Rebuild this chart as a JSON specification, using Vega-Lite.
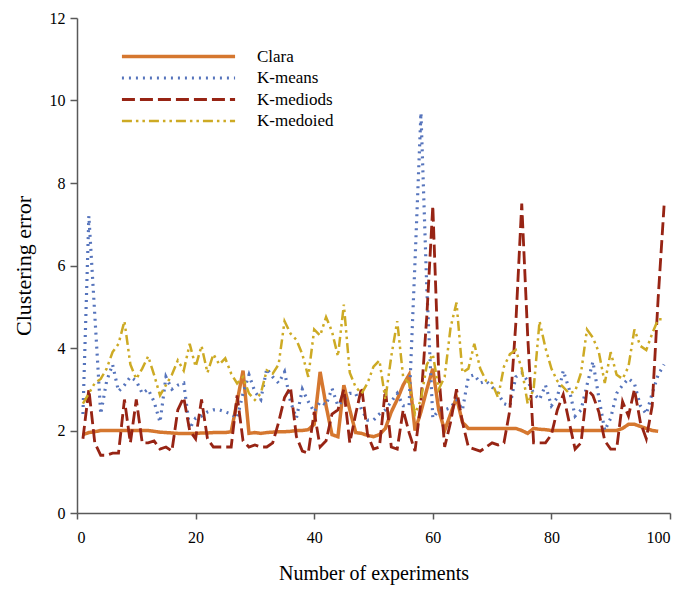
{
  "$schema": "https://vega.github.io/schema/vega-lite/v6.json",
  "width": 593,
  "height": 495,
  "autosize": {"type": "none"},
  "padding": {"left": 77, "top": 18, "right": 11, "bottom": 82},
  "background": "white",
  "config": {
    "view": {"stroke": null},
    "font": "Liberation Serif",
    "axis": {
      "grid": false,
      "domainColor": "#595959",
      "domainWidth": 1.5,
      "tickColor": "#595959",
      "tickWidth": 1.5,
      "labelFont": "Liberation Serif",
      "labelFontSize": 16,
      "labelColor": "#000000",
      "titleFont": "Liberation Serif",
      "titleFontSize": 20,
      "titleFontWeight": "normal",
      "titleColor": "#000000"
    }
  },
  "data": {
    "values": [
      {"n": 1, "Clara": 1.90, "K-means": 2.40, "K-mediods": 1.80, "K-medoied": 2.65},
      {"n": 2, "Clara": 1.95, "K-means": 7.20, "K-mediods": 3.00, "K-medoied": 2.90},
      {"n": 3, "Clara": 1.97, "K-means": 4.80, "K-mediods": 1.70, "K-medoied": 3.15},
      {"n": 4, "Clara": 2.00, "K-means": 2.40, "K-mediods": 1.40, "K-medoied": 3.25},
      {"n": 5, "Clara": 2.00, "K-means": 3.20, "K-mediods": 1.40, "K-medoied": 3.50},
      {"n": 6, "Clara": 2.00, "K-means": 3.60, "K-mediods": 1.45, "K-medoied": 3.90},
      {"n": 7, "Clara": 2.00, "K-means": 2.95, "K-mediods": 1.45, "K-medoied": 4.10},
      {"n": 8, "Clara": 2.00, "K-means": 3.10, "K-mediods": 2.75, "K-medoied": 4.65},
      {"n": 9, "Clara": 2.00, "K-means": 3.30, "K-mediods": 1.70, "K-medoied": 3.60},
      {"n": 10, "Clara": 2.00, "K-means": 3.20, "K-mediods": 2.75, "K-medoied": 3.25},
      {"n": 11, "Clara": 2.00, "K-means": 2.90, "K-mediods": 1.70, "K-medoied": 3.50},
      {"n": 12, "Clara": 2.00, "K-means": 3.00, "K-mediods": 1.70, "K-medoied": 3.80},
      {"n": 13, "Clara": 1.98, "K-means": 2.70, "K-mediods": 1.75, "K-medoied": 3.35},
      {"n": 14, "Clara": 1.96, "K-means": 2.20, "K-mediods": 1.55, "K-medoied": 2.85},
      {"n": 15, "Clara": 1.95, "K-means": 3.30, "K-mediods": 1.60, "K-medoied": 3.10},
      {"n": 16, "Clara": 1.94, "K-means": 3.00, "K-mediods": 1.50, "K-medoied": 3.35},
      {"n": 17, "Clara": 1.93, "K-means": 3.10, "K-mediods": 2.50, "K-medoied": 3.70},
      {"n": 18, "Clara": 1.93, "K-means": 3.15, "K-mediods": 2.80, "K-medoied": 3.45},
      {"n": 19, "Clara": 1.93, "K-means": 2.05, "K-mediods": 2.00, "K-medoied": 4.10},
      {"n": 20, "Clara": 1.93, "K-means": 2.30, "K-mediods": 1.80, "K-medoied": 3.55},
      {"n": 21, "Clara": 1.94, "K-means": 2.35, "K-mediods": 2.75, "K-medoied": 4.05},
      {"n": 22, "Clara": 1.94, "K-means": 2.45, "K-mediods": 1.80, "K-medoied": 3.40},
      {"n": 23, "Clara": 1.95, "K-means": 2.50, "K-mediods": 1.60, "K-medoied": 3.85},
      {"n": 24, "Clara": 1.95, "K-means": 2.50, "K-mediods": 1.60, "K-medoied": 3.60},
      {"n": 25, "Clara": 1.95, "K-means": 2.45, "K-mediods": 1.60, "K-medoied": 3.75},
      {"n": 26, "Clara": 1.97, "K-means": 2.40, "K-mediods": 1.60, "K-medoied": 3.38},
      {"n": 27, "Clara": 2.70, "K-means": 2.30, "K-mediods": 2.85, "K-medoied": 3.14},
      {"n": 28, "Clara": 3.45, "K-means": 2.90, "K-mediods": 1.75, "K-medoied": 3.30},
      {"n": 29, "Clara": 1.93, "K-means": 3.35, "K-mediods": 1.60, "K-medoied": 2.90},
      {"n": 30, "Clara": 1.95, "K-means": 2.94, "K-mediods": 1.65, "K-medoied": 2.74},
      {"n": 31, "Clara": 1.93, "K-means": 2.75, "K-mediods": 1.60, "K-medoied": 2.90},
      {"n": 32, "Clara": 1.95, "K-means": 3.50, "K-mediods": 1.60, "K-medoied": 3.46},
      {"n": 33, "Clara": 1.96, "K-means": 3.30, "K-mediods": 1.70, "K-medoied": 3.38},
      {"n": 34, "Clara": 1.97, "K-means": 3.15, "K-mediods": 2.20, "K-medoied": 3.60},
      {"n": 35, "Clara": 1.97, "K-means": 3.42, "K-mediods": 2.80, "K-medoied": 4.65},
      {"n": 36, "Clara": 1.98, "K-means": 2.70, "K-mediods": 3.05, "K-medoied": 4.35},
      {"n": 37, "Clara": 2.00, "K-means": 2.30, "K-mediods": 1.85, "K-medoied": 4.20},
      {"n": 38, "Clara": 2.00, "K-means": 3.00, "K-mediods": 1.50, "K-medoied": 3.85},
      {"n": 39, "Clara": 2.02, "K-means": 2.70, "K-mediods": 1.45, "K-medoied": 3.30},
      {"n": 40, "Clara": 2.15, "K-means": 2.45, "K-mediods": 2.45, "K-medoied": 4.45},
      {"n": 41, "Clara": 3.42, "K-means": 2.70, "K-mediods": 1.60, "K-medoied": 4.30},
      {"n": 42, "Clara": 2.60, "K-means": 2.62, "K-mediods": 1.75, "K-medoied": 4.75},
      {"n": 43, "Clara": 1.90, "K-means": 3.02, "K-mediods": 2.40, "K-medoied": 4.40},
      {"n": 44, "Clara": 1.85, "K-means": 2.60, "K-mediods": 2.50, "K-medoied": 3.80},
      {"n": 45, "Clara": 3.10, "K-means": 2.75, "K-mediods": 3.00, "K-medoied": 5.05},
      {"n": 46, "Clara": 2.50, "K-means": 2.90, "K-mediods": 1.70, "K-medoied": 3.40},
      {"n": 47, "Clara": 1.95, "K-means": 2.90, "K-mediods": 2.40, "K-medoied": 3.05},
      {"n": 48, "Clara": 1.93, "K-means": 2.50, "K-mediods": 3.05, "K-medoied": 2.90},
      {"n": 49, "Clara": 1.88, "K-means": 2.25, "K-mediods": 1.90, "K-medoied": 3.15},
      {"n": 50, "Clara": 1.85, "K-means": 2.25, "K-mediods": 1.55, "K-medoied": 3.55},
      {"n": 51, "Clara": 1.90, "K-means": 2.40, "K-mediods": 1.60, "K-medoied": 3.70},
      {"n": 52, "Clara": 2.05, "K-means": 2.50, "K-mediods": 3.00, "K-medoied": 2.75},
      {"n": 53, "Clara": 2.45, "K-means": 2.70, "K-mediods": 1.60, "K-medoied": 3.80},
      {"n": 54, "Clara": 2.75, "K-means": 2.90, "K-mediods": 1.55, "K-medoied": 4.65},
      {"n": 55, "Clara": 3.10, "K-means": 2.60, "K-mediods": 2.50, "K-medoied": 3.30},
      {"n": 56, "Clara": 3.35, "K-means": 2.60, "K-mediods": 1.95, "K-medoied": 3.15},
      {"n": 57, "Clara": 2.00, "K-means": 6.10, "K-mediods": 1.50, "K-medoied": 2.40},
      {"n": 58, "Clara": 2.45, "K-means": 9.70, "K-mediods": 2.70, "K-medoied": 2.75},
      {"n": 59, "Clara": 3.00, "K-means": 5.40, "K-mediods": 4.80, "K-medoied": 3.60},
      {"n": 60, "Clara": 3.50, "K-means": 2.30, "K-mediods": 7.45, "K-medoied": 3.85},
      {"n": 61, "Clara": 2.50, "K-means": 2.50, "K-mediods": 3.40, "K-medoied": 3.00},
      {"n": 62, "Clara": 2.00, "K-means": 2.50, "K-mediods": 1.60, "K-medoied": 3.30},
      {"n": 63, "Clara": 2.40, "K-means": 2.55, "K-mediods": 2.20, "K-medoied": 4.50},
      {"n": 64, "Clara": 2.80, "K-means": 2.75, "K-mediods": 3.00, "K-medoied": 5.10},
      {"n": 65, "Clara": 2.20, "K-means": 2.50, "K-mediods": 2.20, "K-medoied": 3.40},
      {"n": 66, "Clara": 2.05, "K-means": 3.30, "K-mediods": 1.60, "K-medoied": 3.50},
      {"n": 67, "Clara": 2.05, "K-means": 3.35, "K-mediods": 1.55, "K-medoied": 4.10},
      {"n": 68, "Clara": 2.05, "K-means": 3.15, "K-mediods": 1.50, "K-medoied": 3.50},
      {"n": 69, "Clara": 2.05, "K-means": 3.20, "K-mediods": 1.60, "K-medoied": 3.20},
      {"n": 70, "Clara": 2.05, "K-means": 3.05, "K-mediods": 1.70, "K-medoied": 3.15},
      {"n": 71, "Clara": 2.05, "K-means": 2.90, "K-mediods": 1.65, "K-medoied": 2.80},
      {"n": 72, "Clara": 2.05, "K-means": 2.65, "K-mediods": 1.70, "K-medoied": 3.55},
      {"n": 73, "Clara": 2.05, "K-means": 2.60, "K-mediods": 2.50, "K-medoied": 3.85},
      {"n": 74, "Clara": 2.05, "K-means": 3.30, "K-mediods": 4.60, "K-medoied": 3.95},
      {"n": 75, "Clara": 2.00, "K-means": 3.40, "K-mediods": 7.50, "K-medoied": 3.50},
      {"n": 76, "Clara": 1.93, "K-means": 3.20, "K-mediods": 4.30, "K-medoied": 2.65},
      {"n": 77, "Clara": 2.05, "K-means": 2.90, "K-mediods": 1.70, "K-medoied": 3.00},
      {"n": 78, "Clara": 2.03, "K-means": 2.75, "K-mediods": 1.70, "K-medoied": 4.65},
      {"n": 79, "Clara": 2.02, "K-means": 3.10, "K-mediods": 1.70, "K-medoied": 4.00},
      {"n": 80, "Clara": 2.00, "K-means": 2.60, "K-mediods": 1.90, "K-medoied": 3.50},
      {"n": 81, "Clara": 2.00, "K-means": 2.80, "K-mediods": 2.50, "K-medoied": 3.20},
      {"n": 82, "Clara": 2.00, "K-means": 3.45, "K-mediods": 2.87, "K-medoied": 3.05},
      {"n": 83, "Clara": 2.00, "K-means": 3.00, "K-mediods": 2.20, "K-medoied": 2.90},
      {"n": 84, "Clara": 2.00, "K-means": 2.35, "K-mediods": 1.55, "K-medoied": 2.95},
      {"n": 85, "Clara": 2.00, "K-means": 2.50, "K-mediods": 1.70, "K-medoied": 3.40},
      {"n": 86, "Clara": 2.00, "K-means": 3.10, "K-mediods": 3.00, "K-medoied": 4.45},
      {"n": 87, "Clara": 2.00, "K-means": 3.67, "K-mediods": 2.85, "K-medoied": 4.25},
      {"n": 88, "Clara": 2.00, "K-means": 2.80, "K-mediods": 2.45, "K-medoied": 3.90},
      {"n": 89, "Clara": 2.00, "K-means": 2.00, "K-mediods": 1.75, "K-medoied": 3.15},
      {"n": 90, "Clara": 2.00, "K-means": 2.30, "K-mediods": 1.55, "K-medoied": 3.90},
      {"n": 91, "Clara": 2.00, "K-means": 2.90, "K-mediods": 1.55, "K-medoied": 3.35},
      {"n": 92, "Clara": 2.05, "K-means": 3.10, "K-mediods": 2.70, "K-medoied": 3.25},
      {"n": 93, "Clara": 2.15, "K-means": 3.26, "K-mediods": 2.35, "K-medoied": 3.55},
      {"n": 94, "Clara": 2.15, "K-means": 3.14, "K-mediods": 3.00, "K-medoied": 4.45},
      {"n": 95, "Clara": 2.10, "K-means": 2.60, "K-mediods": 2.20, "K-medoied": 4.05},
      {"n": 96, "Clara": 2.05, "K-means": 2.40, "K-mediods": 1.80, "K-medoied": 3.95},
      {"n": 97, "Clara": 2.00, "K-means": 2.90, "K-mediods": 2.60, "K-medoied": 4.35},
      {"n": 98, "Clara": 1.98, "K-means": 3.35, "K-mediods": 5.20, "K-medoied": 4.70},
      {"n": 99, "Clara": null, "K-means": 3.60, "K-mediods": 7.45, "K-medoied": 4.70}
    ]
  },
  "transform": [
    {"fold": ["Clara", "K-means", "K-mediods", "K-medoied"], "as": ["series", "value"]}
  ],
  "mark": {"type": "line", "strokeCap": "butt"},
  "encoding": {
    "x": {
      "field": "n",
      "type": "quantitative",
      "scale": {"domain": [0, 100], "nice": false},
      "axis": {"values": [0, 20, 40, 60, 80, 100], "title": "Number of experiments", "tickSize": 6, "labelPadding": 10, "titlePadding": 18}
    },
    "y": {
      "field": "value",
      "type": "quantitative",
      "scale": {"domain": [0, 12], "nice": false},
      "axis": {"values": [0, 2, 4, 6, 8, 10, 12], "title": "Clustering error", "titleFontSize": 22, "tickSize": 7, "labelPadding": 5, "titlePadding": 14}
    },
    "color": {
      "field": "series",
      "type": "nominal",
      "scale": {"domain": ["Clara", "K-means", "K-mediods", "K-medoied"], "range": ["#D5772F", "#5674BC", "#972414", "#CDAA24"]},
      "legend": {
        "orient": "none",
        "legendX": 93,
        "legendY": 30,
        "title": null,
        "padding": 0,
        "symbolType": "M-10,0H10",
        "symbolSize": 128,
        "labelFont": "Liberation Serif",
        "labelFontSize": 17,
        "labelColor": "#000000",
        "labelOffset": 70,
        "rowPadding": 3.5
      }
    },
    "strokeDash": {
      "field": "series",
      "type": "nominal",
      "scale": {"domain": ["Clara", "K-means", "K-mediods", "K-medoied"], "range": [[1, 0], [2, 5], [13, 5], [10, 4, 2.5, 4, 2.5, 4]]}
    },
    "strokeWidth": {
      "field": "series",
      "type": "nominal",
      "scale": {"domain": ["Clara", "K-means", "K-mediods", "K-medoied"], "range": [3.5, 2.5, 3.5, 3.5]}
    }
  }
}
